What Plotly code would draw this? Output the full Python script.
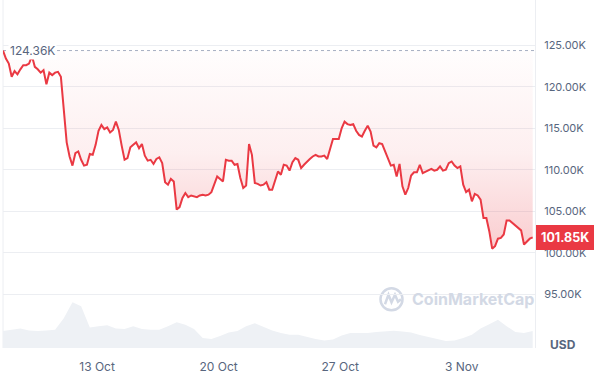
import plotly.graph_objects as go
import pandas as pd

# ---- data -------------------------------------------------------------
start_time = "2025-10-07 14:00"
price_k = [
    124.36, 123.4, 122.8, 121.2, 121.9, 121.5, 122.1, 122.6, 122.6, 122.8,
    123.7, 122.4, 122.1, 121.7, 122.0, 120.3, 121.7, 121.4, 121.7, 121.8,
    121.2, 117.6, 113.3, 111.6, 110.5, 112.0, 112.2, 111.2, 110.5, 110.6,
    111.9, 111.8, 113.0, 114.7, 115.4, 114.9, 115.1, 114.5, 114.8, 115.8,
    114.8, 112.9, 111.2, 111.4, 112.7, 113.0, 113.3, 112.6, 113.1, 111.7,
    111.1, 111.2, 110.7, 111.3, 111.5, 110.8, 108.5, 108.2, 108.9, 108.6,
    105.2, 105.5, 106.6, 107.2, 106.7, 106.9, 106.8, 106.7, 106.9, 107.0,
    106.9, 107.0, 107.3, 108.2, 109.2, 108.9, 108.6, 111.2, 111.1, 111.1,
    110.6, 110.7, 109.0, 107.8, 108.1, 113.1, 111.8, 108.4, 108.3, 108.1,
    108.2, 108.5, 107.6, 107.6, 108.7, 109.8, 109.4, 110.6, 110.5, 109.9,
    110.9, 111.4, 111.2, 110.2, 110.6, 111.0, 111.3, 111.6, 111.8, 111.6,
    111.6, 111.7, 111.3, 112.5, 113.7, 113.7, 113.7, 115.0, 115.8, 115.5,
    115.4, 115.5, 114.7, 114.2, 114.0, 114.7, 115.3, 114.6, 112.9, 112.7,
    113.2, 113.1, 112.2, 111.2, 110.5, 110.6, 109.2, 110.7, 108.0, 107.0,
    107.8, 109.3, 109.7, 109.7, 110.6, 109.6, 109.8, 109.9, 110.1, 109.9,
    110.0, 110.4, 109.9, 110.0, 110.8, 111.0, 110.5, 110.2, 110.4, 108.2,
    107.3, 107.6, 106.2, 107.1, 106.9, 106.4, 104.2, 104.2, 102.6, 100.5,
    100.8, 101.7, 101.8, 102.2, 103.9, 103.9, 103.6, 103.4, 103.0, 102.7,
    101.0, 101.3, 101.7, 101.85,
]
volume_b = [
    51, 55, 58.5, 52.5, 51, 52.5, 55, 90, 138, 126,
    61.5, 66, 69, 58.5, 57, 66, 57, 55, 55, 66,
    78, 70, 57, 30, 27, 36, 46.5, 51, 66, 75,
    63, 52.5, 45, 40, 40, 33, 27, 22.5, 25.5, 37.5,
    45, 45, 45, 48, 51, 52, 49.5, 46.5, 39, 33,
    27, 21, 22.5, 30, 40, 58.5, 72, 85, 66, 48,
    45, 51,
]
ref_price = 124.36
last_price = 101.85
x_tick_dates = ["2025-10-13", "2025-10-20", "2025-10-27", "2025-11-03"]
x_tick_text = ["13 Oct", "20 Oct", "27 Oct", "3 Nov"]
y_tick_vals = [95, 100, 105, 110, 115, 120, 125]
y_tick_text = ["95.00K", "100.00K", "105.00K", "110.00K", "115.00K", "120.00K", "125.00K"]

times = pd.date_range(start_time, periods=len(price_k), freq="4h")
vol_times = pd.date_range(start_time, periods=len(volume_b), freq="12h")

RED = "#ea3943"
GREY = "#58667e"
GRID = "#eceef2"
WM = "#d3d9e5"

fig = go.Figure()

# volume area
fig.add_trace(go.Scatter(
    x=vol_times, y=volume_b, yaxis="y2", mode="lines",
    line=dict(width=0, color="rgba(0,0,0,0)"),
    fill="tozeroy", fillcolor="#eef1f5", hoverinfo="skip"))

# baseline for fill
fig.add_trace(go.Scatter(
    x=times, y=[ref_price] * len(times), mode="lines",
    line=dict(width=0, color="rgba(0,0,0,0)"), hoverinfo="skip"))

# price line with gradient fill to baseline
fig.add_trace(go.Scatter(
    x=times, y=price_k, mode="lines",
    line=dict(color=RED, width=2),
    fill="tonexty",
    fillgradient=dict(type="vertical", start=100, stop=ref_price,
                      colorscale=[[0, "rgba(234,57,67,0.26)"],
                                  [0.5, "rgba(234,57,67,0.08)"],
                                  [1, "rgba(234,57,67,0.01)"]]),
))

# pixel helpers for layout decorations
L, R, T, B = 3, 535, 0, 350
def px(xp):
    return (xp - L) / (R - L)
def py(yp):
    return (B - yp) / (B - T)

shapes = [
    dict(type="line", xref="paper", yref="y", x0=0, x1=1, y0=ref_price, y1=ref_price,
         line=dict(color="#a6b0c3", width=1, dash="dot"), layer="below"),
    dict(type="line", xref="paper", yref="paper", x0=0, x1=0, y0=0, y1=1,
         line=dict(color=GRID, width=1), layer="below"),
    dict(type="circle", xref="paper", yref="paper",
         x0=px(380.5), x1=px(402.5), y0=py(312), y1=py(290),
         line=dict(color=WM, width=2.5), layer="below"),
    dict(type="path", xref="paper", yref="paper",
         path=("M {:.4f},{:.4f} L {:.4f},{:.4f} L {:.4f},{:.4f} L {:.4f},{:.4f} "
               "L {:.4f},{:.4f} L {:.4f},{:.4f}").format(
             px(385), py(306), px(388.5), py(296.5), px(391.5), py(304),
             px(395), py(296.5), px(398), py(303.5), px(401), py(301)),
         line=dict(color=WM, width=2.5), layer="below"),
]

annotations = [
    dict(xref="paper", yref="y", x=px(8), y=ref_price, xanchor="left", yanchor="middle",
         text="124.36K", showarrow=False, bgcolor="white",
         font=dict(size=12, color=GREY, family="Inter"), borderpad=1),
    dict(xref="paper", yref="y", x=px(536), y=last_price, xanchor="left", yanchor="middle",
         text="<b>101.85K</b>", showarrow=False, bgcolor=RED, bordercolor=RED,
         font=dict(size=12.5, color="white", family="Inter"), borderpad=4),
    dict(xref="paper", yref="paper", x=px(563), y=py(346), xanchor="center", yanchor="middle",
         text="<b>USD</b>", showarrow=False,
         font=dict(size=12, color=GREY, family="Inter")),
    dict(xref="paper", yref="paper", x=px(410), y=py(301), xanchor="left", yanchor="middle",
         text="<b>CoinMarketCap</b>", showarrow=False,
         font=dict(size=16, color=WM, family="Inter")),
]

fig.update_layout(
    width=600, height=374,
    margin=dict(l=L, r=600 - R, t=T, b=374 - B),
    paper_bgcolor="white", plot_bgcolor="white",
    showlegend=False,
    font=dict(family="Inter", color=GREY),
    xaxis=dict(type="date", range=[start_time, "2025-11-07 05:12"],
               tickvals=x_tick_dates, ticktext=x_tick_text,
               showgrid=False, zeroline=False, showline=False, ticks="",
               ticklabelstandoff=10,
               tickfont=dict(size=12, color=GREY, family="Inter")),
    yaxis=dict(side="right", range=[88.53, 130.45],
               tickvals=y_tick_vals, ticktext=y_tick_text,
               showgrid=True, gridcolor=GRID, gridwidth=1,
               zeroline=False, showline=True, linecolor=GRID, ticks="",
               ticklabelstandoff=6,
               tickfont=dict(size=11, color=GREY, family="Inter")),
    yaxis2=dict(overlaying="y", range=[0, 1050], visible=False),
    shapes=shapes, annotations=annotations,
)

fig.write_html("out.html")
